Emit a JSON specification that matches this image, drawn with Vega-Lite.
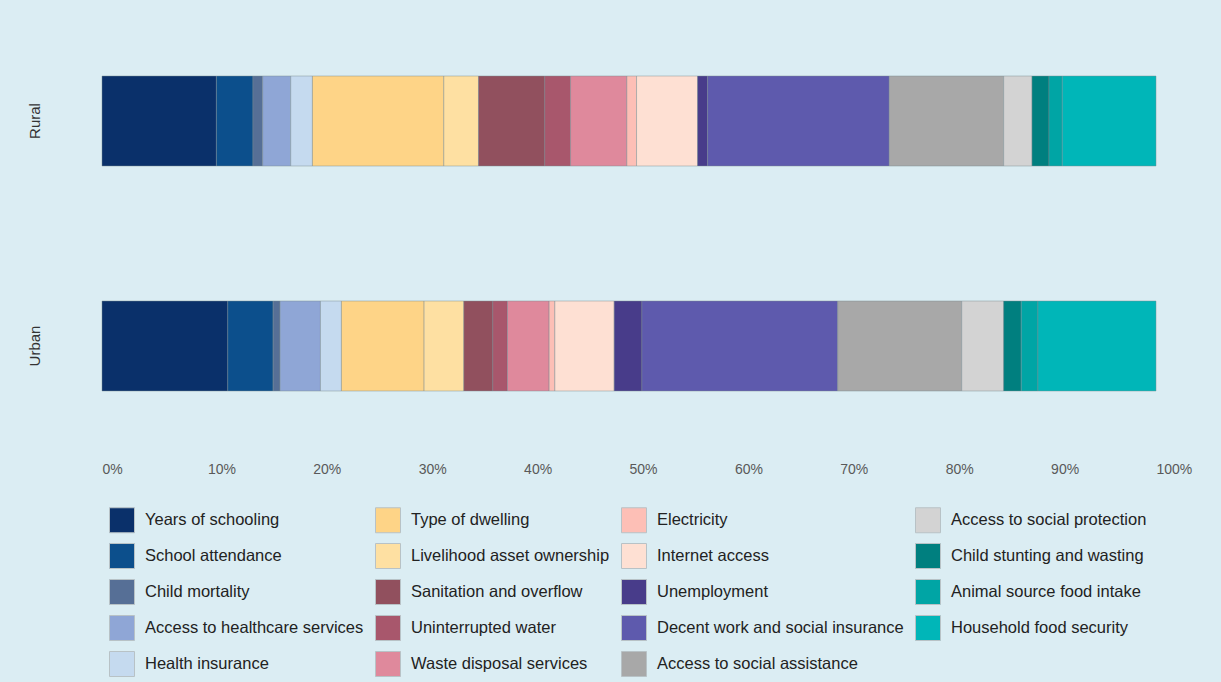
{
  "$schema": "https://vega.github.io/schema/vega-lite/v6.json",
  "width": 1054,
  "height": 450,
  "autosize": {"type": "none"},
  "padding": {"left": 102, "top": 8.5, "right": 65, "bottom": 223.5},
  "background": "#dbedf3",
  "config": {"view": {"stroke": null}, "font": "Liberation Sans"},
  "data": {
    "values": [
      {"area": "Rural", "indicator": "Years of schooling", "idx": 1, "value": 10.85},
      {"area": "Rural", "indicator": "School attendance", "idx": 2, "value": 3.47},
      {"area": "Rural", "indicator": "Child mortality", "idx": 3, "value": 0.92},
      {"area": "Rural", "indicator": "Access to healthcare services", "idx": 4, "value": 2.66},
      {"area": "Rural", "indicator": "Health insurance", "idx": 5, "value": 2.06},
      {"area": "Rural", "indicator": "Type of dwelling", "idx": 6, "value": 12.46},
      {"area": "Rural", "indicator": "Livelihood asset ownership", "idx": 7, "value": 3.29},
      {"area": "Rural", "indicator": "Sanitation and overflow", "idx": 8, "value": 6.29},
      {"area": "Rural", "indicator": "Uninterrupted water", "idx": 9, "value": 2.44},
      {"area": "Rural", "indicator": "Waste disposal services", "idx": 10, "value": 5.34},
      {"area": "Rural", "indicator": "Electricity", "idx": 11, "value": 0.92},
      {"area": "Rural", "indicator": "Internet access", "idx": 12, "value": 5.79},
      {"area": "Rural", "indicator": "Unemployment", "idx": 13, "value": 0.95},
      {"area": "Rural", "indicator": "Decent work and social insurance", "idx": 14, "value": 17.23},
      {"area": "Rural", "indicator": "Access to social assistance", "idx": 15, "value": 10.85},
      {"area": "Rural", "indicator": "Access to social protection", "idx": 16, "value": 2.69},
      {"area": "Rural", "indicator": "Child stunting and wasting", "idx": 17, "value": 1.61},
      {"area": "Rural", "indicator": "Animal source food intake", "idx": 18, "value": 1.26},
      {"area": "Rural", "indicator": "Household food security", "idx": 19, "value": 8.89},
      {"area": "Urban", "indicator": "Years of schooling", "idx": 1, "value": 11.93},
      {"area": "Urban", "indicator": "School attendance", "idx": 2, "value": 4.30},
      {"area": "Urban", "indicator": "Child mortality", "idx": 3, "value": 0.66},
      {"area": "Urban", "indicator": "Access to healthcare services", "idx": 4, "value": 3.83},
      {"area": "Urban", "indicator": "Health insurance", "idx": 5, "value": 1.99},
      {"area": "Urban", "indicator": "Type of dwelling", "idx": 6, "value": 7.84},
      {"area": "Urban", "indicator": "Livelihood asset ownership", "idx": 7, "value": 3.77},
      {"area": "Urban", "indicator": "Sanitation and overflow", "idx": 8, "value": 2.75},
      {"area": "Urban", "indicator": "Uninterrupted water", "idx": 9, "value": 1.39},
      {"area": "Urban", "indicator": "Waste disposal services", "idx": 10, "value": 3.95},
      {"area": "Urban", "indicator": "Electricity", "idx": 11, "value": 0.54},
      {"area": "Urban", "indicator": "Internet access", "idx": 12, "value": 5.63},
      {"area": "Urban", "indicator": "Unemployment", "idx": 13, "value": 2.63},
      {"area": "Urban", "indicator": "Decent work and social insurance", "idx": 14, "value": 18.57},
      {"area": "Urban", "indicator": "Access to social assistance", "idx": 15, "value": 11.76},
      {"area": "Urban", "indicator": "Access to social protection", "idx": 16, "value": 3.98},
      {"area": "Urban", "indicator": "Child stunting and wasting", "idx": 17, "value": 1.67},
      {"area": "Urban", "indicator": "Animal source food intake", "idx": 18, "value": 1.58},
      {"area": "Urban", "indicator": "Household food security", "idx": 19, "value": 11.20}
    ]
  },
  "mark": {"type": "bar", "stroke": "#7a8a90", "strokeWidth": 1, "strokeOpacity": 0.45},
  "encoding": {
    "y": {
      "field": "area", "type": "nominal", "sort": ["Rural", "Urban"],
      "scale": {"paddingInner": 0.6, "paddingOuter": 0.3},
      "axis": {"title": null, "labelAngle": -90, "ticks": false, "domain": false, "labelPadding": 60, "labelFontSize": 15, "labelColor": "#333333"}
    },
    "x": {
      "field": "value", "type": "quantitative", "stack": "normalize",
      "scale": {"domain": [0, 1]},
      "axis": {"title": null, "format": "%", "values": [0, 0.1, 0.2, 0.3, 0.4, 0.5, 0.6, 0.7, 0.8, 0.9, 1], "grid": false, "domain": false, "ticks": false, "labelAlign": "left", "labelFlush": false, "labelOverlap": false, "labelPadding": 4, "labelFontSize": 14, "labelColor": "#595959"}
    },
    "order": {"field": "idx", "type": "quantitative"},
    "color": {
      "field": "indicator", "type": "nominal",
      "scale": {
        "domain": ["Years of schooling", "Type of dwelling", "Electricity", "Access to social protection",
                   "School attendance", "Livelihood asset ownership", "Internet access", "Child stunting and wasting",
                   "Child mortality", "Sanitation and overflow", "Unemployment", "Animal source food intake",
                   "Access to healthcare services", "Uninterrupted water", "Decent work and social insurance", "Household food security",
                   "Health insurance", "Waste disposal services", "Access to social assistance"],
        "range": ["#0a306a", "#fed487", "#fdbfb6", "#d3d3d3",
                  "#0c4f8c", "#fee0a2", "#fee0d3", "#007f7f",
                  "#566f96", "#91505e", "#483c8a", "#00a5a5",
                  "#8fa6d6", "#a8576c", "#5e5aad", "#00b6b8",
                  "#c5daef", "#df899c", "#a8a8a8"]
      },
      "legend": {
        "orient": "none", "legendX": 7, "legendY": 498.5, "direction": "horizontal", "columns": 4,
        "title": null, "symbolType": "square", "symbolSize": 625, "labelFontSize": 16.5, "labelColor": "#222222",
        "labelOffset": 10, "rowPadding": 6, "columnPadding": 9, "symbolStrokeColor": "#b8c2c6",
        "symbolStrokeWidth": 1, "symbolOpacity": 1, "padding": 0, "labelLimit": 400
      }
    }
  }
}
